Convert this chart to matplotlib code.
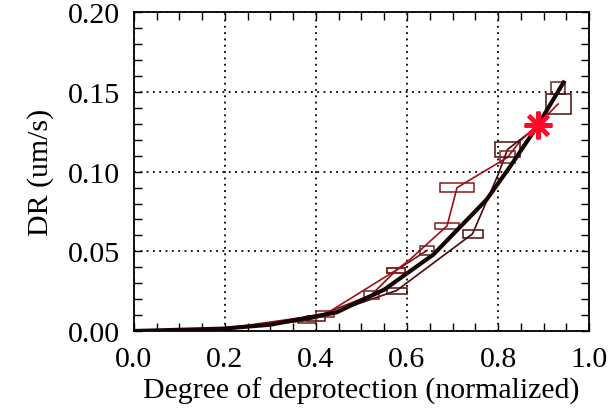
import matplotlib
matplotlib.use("Agg")
import matplotlib.pyplot as plt
from matplotlib.patches import Rectangle
from matplotlib.ticker import MultipleLocator

# fitted curve (thick black)
fit_x = [0.0, 0.196, 0.30, 0.445, 0.55, 0.658, 0.775, 0.826, 0.885, 0.944]
fit_y = [0.0, 0.0015, 0.004, 0.0117, 0.026, 0.048, 0.0825, 0.103, 0.128, 0.156]

# measured runs (thin lines)
a_x = [0.0, 0.18, 0.42, 0.575, 0.607, 0.688, 0.710, 0.821, 0.848, 0.889, 0.932]
a_y = [0.0, 0.0008, 0.0105, 0.038, 0.045, 0.066, 0.090, 0.109, 0.119, 0.130, 0.1425]
b_x = [0.0, 0.18, 0.40, 0.577, 0.744, 0.80, 0.821, 0.889, 0.944]
b_y = [0.0, 0.0005, 0.008, 0.0254, 0.061, 0.098, 0.114, 0.129, 0.156]
c_x = [0.0, 0.18, 0.38, 0.522, 0.576, 0.644]
c_y = [0.0, 0.001, 0.0065, 0.0228, 0.038, 0.0506]

# error boxes: centre and half sizes
a_box_x = [0.18, 0.42, 0.575, 0.688, 0.710, 0.821]
a_box_y = [0.0005, 0.0105, 0.038, 0.066, 0.090, 0.109]
a_box_dx = [0.015, 0.02, 0.02, 0.027, 0.038, 0.0165]
a_box_dy = [0.0015, 0.0018, 0.0018, 0.0018, 0.003, 0.0038]
b_box_x = [0.40, 0.577, 0.744, 0.821, 0.932]
b_box_y = [0.008, 0.0254, 0.061, 0.114, 0.1425]
b_box_dx = [0.02, 0.022, 0.022, 0.0275, 0.0275]
b_box_dy = [0.0015, 0.0019, 0.0025, 0.0049, 0.0062]
c_box_x = [0.38, 0.522, 0.576, 0.644, 0.932]
c_box_y = [0.0065, 0.0228, 0.038, 0.0506, 0.1526]
c_box_dx = [0.02, 0.017, 0.02, 0.016, 0.016]
c_box_dy = [0.0015, 0.0024, 0.0018, 0.003, 0.0038]

star_x = [0.889]
star_y = [0.129]

plt.rcParams['font.family'] = ['Liberation Serif', 'DejaVu Serif']
plt.rcParams['font.size'] = 21.5

fig = plt.figure(figsize=(6.11, 4.14), dpi=100)
ax = fig.add_axes([0.2193, 0.198, 0.7447, 0.7697])


def draw_boxes(xs, ys, dxs, dys, color):
    for x, y, dx, dy in zip(xs, ys, dxs, dys):
        ax.add_patch(Rectangle((x - dx, y - dy), 2 * dx, 2 * dy,
                               fill=False, edgecolor=color, lw=1.1, zorder=3))


col_a = '#a0101a'
col_b = '#4a0808'
col_c = '#7a1414'

ax.plot(c_x, c_y, color=col_c, lw=1.2, zorder=3)
ax.plot(b_x, b_y, color=col_b, lw=1.2, zorder=3)
ax.plot(a_x, a_y, color=col_a, lw=1.2, zorder=3)
draw_boxes(c_box_x, c_box_y, c_box_dx, c_box_dy, '#6a2424')
draw_boxes(b_box_x, b_box_y, b_box_dx, b_box_dy, '#4a1010')
draw_boxes(a_box_x, a_box_y, a_box_dx, a_box_dy, '#8a1a1a')

ax.plot(fit_x, fit_y, color='#150505', lw=3.0, zorder=4)
ax.plot(star_x, star_y, linestyle='none', marker=(8, 2, 0), markersize=20,
        markeredgewidth=3.0, color='#ff0a2a', zorder=5)

ax.set_xlim(0, 1.0)
ax.set_ylim(0, 0.2)
ax.xaxis.set_major_locator(MultipleLocator(0.2))
ax.xaxis.set_minor_locator(MultipleLocator(0.05))
ax.yaxis.set_major_locator(MultipleLocator(0.05))
ax.yaxis.set_minor_locator(MultipleLocator(0.01))
ax.xaxis.set_major_formatter(plt.FuncFormatter(lambda v, p: f"{v:.1f}"))
ax.yaxis.set_major_formatter(plt.FuncFormatter(lambda v, p: f"{v:.2f}"))
ax.tick_params(which='both', direction='in', top=True, right=True,
               length=6, width=1, color='black', pad=10)
ax.tick_params(axis='x', pad=11)
ax.grid(True, which='major', color='black', linestyle=(0, (1, 2.5)), lw=1.3)
for s in ax.spines.values():
    s.set_linewidth(1.3)

ax.set_xlabel("Degree of deprotection (normalized)", labelpad=3)
ax.set_ylabel("DR (um/s)", labelpad=10)

fig.savefig("out.png", dpi=100)
